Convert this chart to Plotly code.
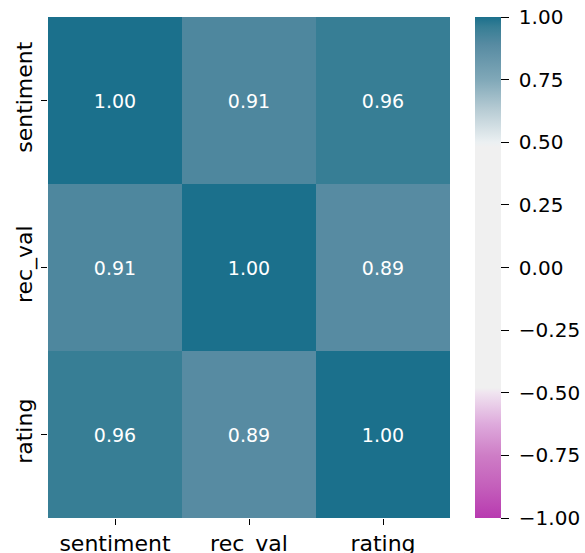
import plotly.graph_objects as go

labels = ["sentiment", "rec_val", "rating"]
corr = [
    [1.00, 0.91, 0.96],
    [0.91, 1.00, 0.89],
    [0.96, 0.89, 1.00],
]
cbar_ticks = [-1.0, -0.75, -0.5, -0.25, 0.0, 0.25, 0.5, 0.75, 1.0]
cbar_text = ["\u00a0" + f"{v:.2f}".replace("-", "\u2212") for v in cbar_ticks]

colorscale = [
    [0.0, "rgb(184,58,176)"],
    [0.0625, "rgb(196,95,187)"],
    [0.125, "rgb(206,125,198)"],
    [0.1875, "rgb(222,170,220)"],
    [0.25, "rgb(240,228,240)"],
    [0.26, "rgb(240,240,240)"],
    [0.74, "rgb(240,240,240)"],
    [0.75, "rgb(235,240,242)"],
    [0.8125, "rgb(185,205,213)"],
    [0.875, "rgb(128,168,184)"],
    [0.945, "rgb(87,139,162)"],
    [0.98, "rgb(55,126,149)"],
    [1.0, "rgb(27,112,140)"],
]

FONT = "DejaVu Sans"
W, H = 585, 553
L, R, T, B = 48, 135, 17, 35
pw = W - L - R

fig = go.Figure(
    go.Heatmap(
        z=corr,
        x=labels,
        y=labels,
        zmin=-1,
        zmax=1,
        colorscale=colorscale,
        texttemplate="%{z:.2f}",
        textfont=dict(family=FONT, size=19, color="white"),
        xgap=0,
        ygap=0,
        colorbar=dict(
            x=(475 - L) / pw,
            xanchor="left",
            xref="paper",
            xpad=0,
            ypad=0,
            y=0.5,
            yanchor="middle",
            len=1.0,
            lenmode="fraction",
            thickness=26,
            thicknessmode="pixels",
            outlinewidth=0,
            tickmode="array",
            tickvals=cbar_ticks,
            ticktext=cbar_text,
            ticks="outside",
            ticklen=8,
            tickwidth=1,
            tickcolor="black",
            tickfont=dict(family=FONT, size=20, color="black"),
        ),
        hoverongaps=False,
    )
)

fig.update_layout(
    width=W,
    height=H,
    margin=dict(l=L, r=R, t=T, b=B, pad=0, autoexpand=False),
    paper_bgcolor="white",
    plot_bgcolor="white",
    font=dict(family=FONT, color="black"),
    xaxis=dict(
        showgrid=False,
        zeroline=False,
        automargin=False,
        ticks="outside",
        ticklen=6,
        tickwidth=1,
        tickcolor="black",
        tickfont=dict(family=FONT, size=22, color="black"),
        showline=False,
    ),
    yaxis=dict(
        showgrid=False,
        zeroline=False,
        automargin=False,
        autorange="reversed",
        ticks="outside",
        ticklen=6,
        tickwidth=1,
        tickcolor="black",
        tickangle=-90,
        tickfont=dict(family=FONT, size=22, color="black"),
        showline=False,
    ),
)

fig.write_html("out.html")
